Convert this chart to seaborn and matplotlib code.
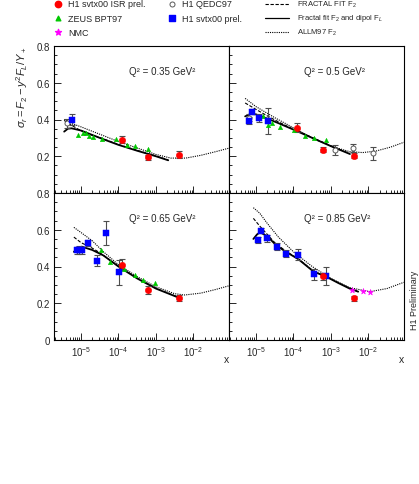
import numpy as np
import pandas as pd
import matplotlib
matplotlib.use("Agg")
import matplotlib.pyplot as plt
import seaborn as sns
from matplotlib.ticker import LogLocator, MultipleLocator, NullFormatter, LogFormatterSciNotation

# ---- data (x stored as log10(x)) ----
q2_values = ["0.35", "0.5", "0.65", "0.85"]

# Q2 = 0.35
q035_isr_lgx = [-3.90, -3.20, -2.37]
q035_isr_y = [0.290, 0.194, 0.208]
q035_isr_err = [0.020, 0.012, 0.020]
q035_svtx_lgx = [-5.25]
q035_svtx_y = [0.400]
q035_svtx_err = [0.030]
q035_qedc_lgx = [-5.38]
q035_qedc_y = [0.380]
q035_qedc_err = [0.025]
q035_zeus_lgx = [-5.07, -4.955, -4.87, -4.78, -4.67, -4.45, -4.07, -3.77, -3.55, -3.22]
q035_zeus_y = [0.316, 0.325, 0.325, 0.312, 0.306, 0.294, 0.294, 0.263, 0.254, 0.239]
q035_solid_lgx = [-5.45, -5.35, -5.25, -5.0, -4.5, -4.0, -3.5, -3.0, -2.67]
q035_solid_y = [0.334, 0.350, 0.352, 0.340, 0.300, 0.262, 0.230, 0.200, 0.178]
q035_dash_lgx = [-5.45, -5.3, -5.1, -4.8, -4.5, -4.0, -3.5, -3.0, -2.67]
q035_dash_y = [0.395, 0.375, 0.350, 0.320, 0.302, 0.264, 0.232, 0.202, 0.180]
q035_allm_lgx = [-5.45, -5.2, -5.0, -4.5, -4.0, -3.5, -3.0, -2.6, -2.2, -1.8, -1.4, -1.03]
q035_allm_y = [0.400, 0.375, 0.360, 0.320, 0.280, 0.245, 0.210, 0.190, 0.190, 0.205, 0.225, 0.245]

# Q2 = 0.5
q05_isr_lgx = [-3.90, -3.21, -2.37]
q05_isr_y = [0.355, 0.236, 0.203]
q05_isr_err = [0.025, 0.015, 0.015]
q05_svtx_lgx = [-5.18, -5.10, -4.93, -4.69]
q05_svtx_y = [0.394, 0.443, 0.408, 0.390]
q05_svtx_err = [0.020, 0.015, 0.020, 0.070]
q05_qedc_lgx = [-5.20, -2.89, -2.42, -1.87]
q05_qedc_y = [0.410, 0.234, 0.245, 0.216]
q05_qedc_err = [0.020, 0.025, 0.020, 0.035]
q05_zeus_lgx = [-4.80, -4.69, -4.56, -4.36, -3.99, -3.69, -3.45, -3.13]
q05_zeus_y = [0.421, 0.370, 0.379, 0.357, 0.341, 0.312, 0.300, 0.288]
q05_solid_lgx = [-5.29, -5.15, -5.0, -4.7, -4.4, -4.0, -3.5, -3.0, -2.49]
q05_solid_y = [0.417, 0.430, 0.428, 0.405, 0.380, 0.345, 0.300, 0.255, 0.212]
q05_dash_lgx = [-5.29, -5.0, -4.7, -4.4, -4.0, -3.5, -3.0, -2.49]
q05_dash_y = [0.490, 0.455, 0.420, 0.387, 0.347, 0.302, 0.257, 0.214]
q05_allm_lgx = [-5.29, -5.0, -4.5, -4.0, -3.5, -3.0, -2.5, -2.15, -1.8, -1.4, -1.05]
q05_allm_y = [0.515, 0.470, 0.410, 0.355, 0.300, 0.255, 0.225, 0.220, 0.228, 0.250, 0.276]

# Q2 = 0.65
q065_isr_lgx = [-3.91, -3.21, -2.37]
q065_isr_y = [0.410, 0.272, 0.229]
q065_isr_err = [0.030, 0.020, 0.015]
q065_svtx_lgx = [-5.10, -5.05, -4.98, -4.82, -4.57, -4.33, -3.99]
q065_svtx_y = [0.488, 0.490, 0.488, 0.528, 0.432, 0.581, 0.368]
q065_svtx_err = [0.020, 0.020, 0.020, 0.015, 0.030, 0.065, 0.070]
q065_zeus_lgx = [-4.46, -4.23, -3.86, -3.56, -3.34, -3.02]
q065_zeus_y = [0.491, 0.426, 0.386, 0.352, 0.328, 0.310]
q065_solid_lgx = [-5.19, -5.08, -4.98, -4.7, -4.4, -4.0, -3.5, -3.0, -2.41]
q065_solid_y = [0.480, 0.500, 0.508, 0.490, 0.460, 0.400, 0.335, 0.280, 0.232]
q065_dash_lgx = [-5.19, -5.0, -4.7, -4.5, -4.0, -3.5, -3.0, -2.41]
q065_dash_y = [0.560, 0.530, 0.500, 0.475, 0.402, 0.337, 0.282, 0.234]
q065_allm_lgx = [-5.19, -5.0, -4.7, -4.4, -4.0, -3.5, -3.0, -2.5, -2.23, -1.8, -1.4, -1.03]
q065_allm_y = [0.613, 0.585, 0.540, 0.480, 0.410, 0.345, 0.290, 0.252, 0.245, 0.255, 0.275, 0.296]

# Q2 = 0.85
q085_isr_lgx = [-3.21, -2.37]
q085_isr_y = [0.347, 0.227]
q085_isr_err = [0.020, 0.015]
q085_svtx_lgx = [-4.95, -4.86, -4.70, -4.45, -4.20, -3.87, -3.46, -3.13]
q085_svtx_y = [0.544, 0.595, 0.553, 0.508, 0.470, 0.463, 0.359, 0.350]
q085_svtx_err = [0.015, 0.015, 0.020, 0.020, 0.020, 0.030, 0.030, 0.050]
q085_nmc_lgx = [-2.43, -2.15, -1.96]
q085_nmc_y = [0.272, 0.267, 0.260]
q085_solid_lgx = [-5.07, -4.97, -4.89, -4.7, -4.45, -4.2, -3.87, -3.46, -3.13, -2.8, -2.5, -2.27]
q085_solid_y = [0.550, 0.575, 0.586, 0.565, 0.513, 0.480, 0.440, 0.372, 0.345, 0.310, 0.280, 0.263]
q085_dash_lgx = [-5.07, -4.9, -4.7, -4.5, -4.2, -3.87, -3.46, -3.13, -2.8, -2.5, -2.27]
q085_dash_y = [0.662, 0.620, 0.575, 0.530, 0.483, 0.442, 0.374, 0.347, 0.312, 0.282, 0.265]
q085_allm_lgx = [-5.07, -4.9, -4.7, -4.4, -4.0, -3.5, -3.0, -2.5, -1.96, -1.5, -1.05]
q085_allm_y = [0.720, 0.690, 0.635, 0.560, 0.480, 0.400, 0.335, 0.285, 0.263, 0.280, 0.314]

# ---- styling ----
sns.set_style("ticks")
plt.rcParams['font.family'] = ['Liberation Sans', 'DejaVu Sans']
plt.rcParams['mathtext.fontset'] = 'custom'
plt.rcParams['mathtext.rm'] = 'Liberation Sans'
plt.rcParams['mathtext.it'] = 'Liberation Sans:italic'
plt.rcParams['mathtext.bf'] = 'Liberation Sans:bold'

RED, GREEN, BLUE, MAG = '#ff0000', '#00c800', '#0000ff', '#ff00ff'
ERRC = '0.3'

series_style = {
    'isr': dict(marker='o', color=RED, s=21, edgecolor=RED, zorder=4),
    'svtx': dict(marker='s', color=BLUE, s=17, edgecolor=BLUE, zorder=4),
    'qedc': dict(marker='o', color='white', s=13, edgecolor='0.35', linewidth=0.7, zorder=4),
    'zeus': dict(marker='^', color=GREEN, s=11, edgecolor=GREEN, zorder=4),
    'nmc': dict(marker='*', color=MAG, s=20, edgecolor=MAG, zorder=4),
}
curve_style = {
    'solid': dict(linestyle='-', linewidth=1.3),
    'dash': dict(linestyle=(0, (3, 1.5)), linewidth=0.8),
    'allm': dict(linestyle=(0, (1, 1)), linewidth=0.8),
}

panels = [
    dict(q2=q2_values[0],
         points=[('qedc', q035_qedc_lgx, q035_qedc_y, q035_qedc_err),
                 ('zeus', q035_zeus_lgx, q035_zeus_y, None),
                 ('svtx', q035_svtx_lgx, q035_svtx_y, q035_svtx_err),
                 ('isr', q035_isr_lgx, q035_isr_y, q035_isr_err)],
         curves=[('allm', q035_allm_lgx, q035_allm_y), ('dash', q035_dash_lgx, q035_dash_y),
                 ('solid', q035_solid_lgx, q035_solid_y)]),
    dict(q2=q2_values[1],
         points=[('qedc', q05_qedc_lgx, q05_qedc_y, q05_qedc_err),
                 ('zeus', q05_zeus_lgx, q05_zeus_y, None),
                 ('svtx', q05_svtx_lgx, q05_svtx_y, q05_svtx_err),
                 ('isr', q05_isr_lgx, q05_isr_y, q05_isr_err)],
         curves=[('allm', q05_allm_lgx, q05_allm_y), ('dash', q05_dash_lgx, q05_dash_y),
                 ('solid', q05_solid_lgx, q05_solid_y)]),
    dict(q2=q2_values[2],
         points=[('zeus', q065_zeus_lgx, q065_zeus_y, None),
                 ('svtx', q065_svtx_lgx, q065_svtx_y, q065_svtx_err),
                 ('isr', q065_isr_lgx, q065_isr_y, q065_isr_err)],
         curves=[('allm', q065_allm_lgx, q065_allm_y), ('dash', q065_dash_lgx, q065_dash_y),
                 ('solid', q065_solid_lgx, q065_solid_y)]),
    dict(q2=q2_values[3],
         points=[('nmc', q085_nmc_lgx, q085_nmc_y, None),
                 ('svtx', q085_svtx_lgx, q085_svtx_y, q085_svtx_err),
                 ('isr', q085_isr_lgx, q085_isr_y, q085_isr_err)],
         curves=[('allm', q085_allm_lgx, q085_allm_y), ('dash', q085_dash_lgx, q085_dash_y),
                 ('solid', q085_solid_lgx, q085_solid_y)]),
]

W, H = 419, 485
fig = plt.figure(figsize=(W / 100, H / 100), dpi=100)

# panel boxes in pixels: left, top, width, height
pw, ph = 175, 147
boxes = [(54, 47), (229, 47), (54, 194), (229, 194)]

for i, (p, (lx, ty)) in enumerate(zip(panels, boxes)):
    ax = fig.add_axes([lx / W, 1 - (ty + ph) / H, pw / W, ph / H])
    ax.set_xscale('log')
    for kind, lgx, yy in p['curves']:
        sns.lineplot(x=10 ** np.array(lgx), y=yy, ax=ax, color='black',
                     estimator=None, sort=False, **curve_style[kind])
    for kind, lgx, yy, err in p['points']:
        xx = 10 ** np.array(lgx)
        if err is not None:
            ax.errorbar(xx, yy, yerr=err, fmt='none', ecolor=ERRC, elinewidth=0.8,
                        capsize=2, capthick=0.8, zorder=3)
        sns.scatterplot(x=xx, y=yy, ax=ax, **series_style[kind])

    ax.set_xlim(1.9e-6, 0.09)
    ax.set_ylim(0, 0.8)
    ax.xaxis.set_major_locator(LogLocator(base=10, numticks=10))
    ax.xaxis.set_minor_locator(LogLocator(base=10, subs=np.arange(2, 10), numticks=20))
    ax.xaxis.set_minor_formatter(NullFormatter())
    ax.yaxis.set_major_locator(MultipleLocator(0.2))
    ax.yaxis.set_minor_locator(MultipleLocator(0.05))
    ax.tick_params(which='both', direction='in', top=False, right=False, labelsize=7,
                   width=0.7, pad=3)
    ax.tick_params(which='major', length=5)
    ax.tick_params(which='minor', length=2.5)
    ax.yaxis.set_major_formatter(plt.FuncFormatter(lambda v, _: '0' if abs(v) < 1e-9 else f'{v:.1f}'))
    if i in (0, 1):
        ax.set_xticklabels([])
        ax.set_yticks([0.2, 0.4, 0.6, 0.8])
        ax.yaxis.set_minor_locator(MultipleLocator(0.05))
    else:
        ax.xaxis.set_major_formatter(LogFormatterSciNotation())
    if i in (1, 3):
        ax.set_yticklabels([])
    for sp in ax.spines.values():
        sp.set_linewidth(0.8)
        sp.set_color('black')
        sp.set_visible(True)
    ax.set_xlabel('')
    ax.set_ylabel('')
    ax.text(0.43, 0.83, f'Q\u00b2 = {p["q2"]} GeV\u00b2', transform=ax.transAxes,
            fontsize=7, ha='left', va='center')

# y title, x labels, preliminary tag
fig.text(22 / W, 1 - 47 / H, r'$\sigma_r = F_2 - y^2F_L / Y_+$', rotation=90,
         ha='center', va='top', fontsize=8)
fig.text(226 / W, 1 - 360 / H, 'x', ha='center', va='center', fontsize=7.5)
fig.text(401 / W, 1 - 360 / H, 'x', ha='center', va='center', fontsize=7.5)
fig.text(414 / W, 1 - 300 / H, 'H1 Preliminary', rotation=90, ha='center', va='center',
         fontsize=6.5)

# legend drawn in pixel coordinates on an overlay
lax = fig.add_axes([0, 0, 1, 1])
lax.set_xlim(0, W)
lax.set_ylim(H, 0)
lax.axis('off')
rows = [4.5, 19, 33]
marker_entries = [
    ('isr', 'H1 svtx00 ISR prel.', 58, rows[0]),
    ('zeus', 'ZEUS BPT97', 58, rows[1]),
    ('nmc', 'NMC', 58, rows[2]),
    ('qedc', 'H1 QEDC97', 172, rows[0]),
    ('svtx', 'H1 svtx00 prel.', 172, rows[1]),
]
for kind, label, mx, my in marker_entries:
    st = dict(series_style[kind])
    st.pop('zorder')
    lax.scatter([mx], [my], **st)
    lax.text(mx + 10, my, label, fontsize=6.5, ha='left', va='center')
line_entries = [
    ('dash', 'FRACTAL FIT F$_2$', rows[0]),
    ('solid', 'Fractal fit F$_2$ and dipol F$_L$', rows[1]),
    ('allm', 'ALLM97 F$_2$', rows[2]),
]
for kind, label, my in line_entries:
    st = dict(curve_style[kind])
    if kind == 'solid':
        st['linewidth'] = 0.9
    lax.plot([265, 289], [my, my], color='black', **st)
    lax.text(297, my, label, fontsize=5.5, ha='left', va='center')

fig.savefig('out.png', dpi=100)
